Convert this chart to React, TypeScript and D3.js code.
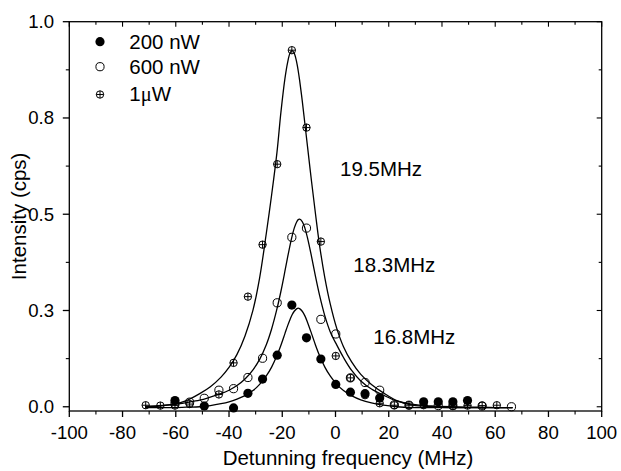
import * as d3 from "d3";

// measured points (MHz, cps)
const detuning = [-71.3, -65.8, -60.3, -54.8, -49.3, -43.8, -38.3, -32.9, -27.4, -21.9, -16.4, -10.9, -5.5, 0.1, 5.6, 11.1, 16.6, 22.1, 27.6, 33.1, 38.6, 44.1, 49.6, 55.1, 60.6, 66.1];
const p200nW = [null, null, 0.016, null, 0.002, null, -0.003, 0.035, 0.072, 0.134, 0.264, 0.179, 0.124, 0.058, 0.038, 0.034, 0.023, null, null, 0.013, 0.013, 0.013, 0.016, null, null, null];
const p600nW = [null, null, 0.008, 0.012, 0.022, 0.043, 0.047, 0.076, 0.126, 0.27, 0.44, 0.464, 0.227, 0.189, 0.075, 0.063, 0.043, 0.005, 0.004, null, 0.003, 0.003, null, 0.002, null, 0.0];
const p1uW = [0.004, 0.003, 0.003, 0.007, null, 0.032, 0.114, 0.286, 0.421, 0.63, 0.926, 0.725, 0.429, 0.132, 0.075, 0.03, 0.009, 0.004, 0.004, 0.004, null, 0.002, 0.003, 0.003, 0.004, null];

// fitted lines
const fitX = [-71.5, -66, -61, -56, -51, -47, -43, -40, -37, -34, -31, -28.5, -26, -24, -22, -20.5, -19, -18, -17, -16.3, -15.5, -14.5, -14, -13.5, -12.5, -11.5, -10.5, -9, -7.5, -6, -4, -2, 0.5, 3, 6, 9.5, 13.5, 18, 23, 29, 36, 44, 53, 61, 66.5];
const fit1uW = [0.0, 0.002, 0.006, 0.016, 0.034, 0.052, 0.077, 0.102, 0.136, 0.184, 0.251, 0.335, 0.45, 0.55, 0.66, 0.765, 0.852, 0.894, 0.92, 0.925, 0.918, 0.892, 0.872, 0.849, 0.795, 0.735, 0.675, 0.585, 0.5, 0.42, 0.335, 0.268, 0.203, 0.156, 0.117, 0.084, 0.058, 0.036, 0.016, 0.004, 0.0, -0.002, -0.002, -0.002, -0.002];
const fit600nW = [0.001, 0.003, 0.006, 0.011, 0.017, 0.025, 0.034, 0.043, 0.055, 0.072, 0.096, 0.123, 0.161, 0.202, 0.254, 0.3, 0.352, 0.388, 0.422, 0.443, 0.464, 0.481, 0.486, 0.487, 0.481, 0.464, 0.438, 0.39, 0.338, 0.29, 0.236, 0.195, 0.16, 0.128, 0.095, 0.067, 0.046, 0.03, 0.015, 0.006, 0.002, 0.0, -0.001, -0.002, -0.002];
const fit200nW = [-0.002, -0.002, -0.002, -0.001, 0.0, 0.003, 0.008, 0.013, 0.02, 0.029, 0.042, 0.058, 0.08, 0.103, 0.133, 0.16, 0.19, 0.21, 0.228, 0.239, 0.248, 0.255, 0.256, 0.255, 0.248, 0.236, 0.219, 0.19, 0.16, 0.133, 0.103, 0.08, 0.058, 0.042, 0.029, 0.018, 0.01, 0.004, 0.0, -0.002, -0.002, -0.002, -0.002, -0.002, -0.002];

const xTicks = [-100, -80, -60, -40, -20, 0, 20, 40, 60, 80, 100];
const yTicks = [0, 0.25, 0.5, 0.75, 1.0];
const yTickLabels = ["0.0", "0.3", "0.5", "0.8", "1.0"];

// FWHM labels placed in data space
const widthLabels = ["19.5MHz", "18.3MHz", "16.8MHz"];
const widthLabelX = [1.7, 6.7, 14.2];
const widthLabelY = [0.598, 0.351, 0.162];

const legendLabels = ["200 nW", "600 nW", "1"];

const WIDTH = 621;
const HEIGHT = 471;
const left = 69.3;
const right = 601.7;
const top = 21.7;
const bottom = 411;
const font = "'Liberation Sans', Arial, sans-serif";

function Marker({ kind, cx, cy }: { kind: number; cx: number; cy: number }) {
  if (kind === 0) return <circle cx={cx} cy={cy} r={4.6} fill="#000" />;
  if (kind === 1)
    return <circle cx={cx} cy={cy} r={4.1} fill="none" stroke="#000" strokeWidth={1} />;
  const r = 3.7;
  return (
    <g stroke="#000" strokeWidth={1} fill="none">
      <circle cx={cx} cy={cy} r={r} />
      <line x1={cx - r} x2={cx + r} y1={cy} y2={cy} />
      <line x1={cx} x2={cx} y1={cy - r} y2={cy + r} />
    </g>
  );
}

export default function App() {
  const x = d3.scaleLinear([-100, 100], [left, right]);
  const y = d3.scaleLinear([-0.011, 1], [bottom, top]);

  const line = d3
    .line<number>()
    .x((d, i) => x(fitX[i]))
    .y((d) => y(d))
    .curve(d3.curveCatmullRom);

  const xMinor = d3.range(-90, 100, 20);
  const yMinor = [0.125, 0.375, 0.625, 0.875];
  const series = [p200nW, p600nW, p1uW];

  return (
    <svg
      width={WIDTH}
      height={HEIGHT}
      style={{ position: "absolute", left: 0, top: 0, background: "#fff" }}
      fontFamily={font}
    >
      <rect width={WIDTH} height={HEIGHT} fill="#fff" />

      {/* fits */}
      {[fit200nW, fit600nW, fit1uW].map((f, i) => (
        <path key={i} d={line(f) ?? ""} fill="none" stroke="#000" strokeWidth={1.3} />
      ))}

      {/* points */}
      {series.map((s, k) =>
        s.map((v, i) =>
          v === null ? null : <Marker key={k + "-" + i} kind={k} cx={x(detuning[i])} cy={y(v)} />
        )
      )}

      {/* frame */}
      <rect x={left} y={top} width={right - left} height={bottom - top} fill="none" stroke="#000" strokeWidth={1.3} />

      {/* x axis */}
      {xTicks.map((t) => (
        <g key={"xt" + t}>
          <line x1={x(t)} x2={x(t)} y1={bottom} y2={bottom + 6} stroke="#000" strokeWidth={1.3} />
          <line x1={x(t)} x2={x(t)} y1={top} y2={top + 5} stroke="#000" strokeWidth={1.1} />
          <text x={x(t)} y={439.3} textAnchor="middle" fontSize={18.6}>
            {t}
          </text>
        </g>
      ))}
      {xMinor.map((t) => (
        <g key={"xm" + t}>
          <line x1={x(t)} x2={x(t)} y1={bottom} y2={bottom + 3.5} stroke="#000" strokeWidth={1.1} />
          <line x1={x(t)} x2={x(t)} y1={top} y2={top + 3} stroke="#000" strokeWidth={1.1} />
        </g>
      ))}

      {/* y axis */}
      {yTicks.map((t, i) => (
        <g key={"yt" + t}>
          <line x1={left - 6.5} x2={left} y1={y(t)} y2={y(t)} stroke="#000" strokeWidth={1.3} />
          <line x1={right - 5} x2={right} y1={y(t)} y2={y(t)} stroke="#000" strokeWidth={1.1} />
          <text x={54} y={y(t)} dy="0.35em" textAnchor="end" fontSize={18.6}>
            {yTickLabels[i]}
          </text>
        </g>
      ))}
      {yMinor.map((t) => (
        <g key={"ym" + t}>
          <line x1={left - 3.5} x2={left} y1={y(t)} y2={y(t)} stroke="#000" strokeWidth={1.1} />
          <line x1={right - 3} x2={right} y1={y(t)} y2={y(t)} stroke="#000" strokeWidth={1.1} />
        </g>
      ))}

      {/* axis titles */}
      <text x={348} y={465} textAnchor="middle" fontSize={20.5}>
        Detunning frequency (MHz)
      </text>
      <text
        transform={`translate(25.5,${(top + bottom) / 2}) rotate(-90)`}
        textAnchor="middle"
        fontSize={20.5}
      >
        Intensity (cps)
      </text>

      {/* FWHM labels */}
      {widthLabels.map((l, i) => (
        <text key={l} x={x(widthLabelX[i])} y={y(widthLabelY[i])} fontSize={20.5}>
          {l}
        </text>
      ))}

      {/* legend */}
      {legendLabels.map((l, i) => {
        const cy = [41.7, 66.7, 94.5][i];
        return (
          <g key={l}>
            <Marker kind={i} cx={100} cy={cy} />
            <text x={129.3} y={cy + 6.8} fontSize={20.5}>
              {l}
              {i === 2 ? (
                <>
                  <tspan fontFamily="'Liberation Serif', 'Times New Roman', serif">μ</tspan>W
                </>
              ) : null}
            </text>
          </g>
        );
      })}
    </svg>
  );
}
